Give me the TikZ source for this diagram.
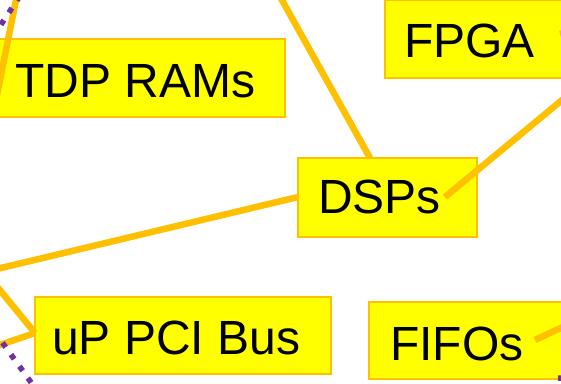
\documentclass[tikz,border=0pt]{standalone}
\usepackage{fontspec}
\setmainfont{Liberation Sans}
\definecolor{busorange}{HTML}{FFC000}
\definecolor{boxyellow}{HTML}{FFFF00}
\definecolor{ctrlpurple}{HTML}{7030A0}
\begin{document}
\begin{tikzpicture}[x=1pt,y=-1pt,
  block/.style={draw=busorange,line width=1.5pt,fill=boxyellow,rectangle,inner sep=0pt},
  lbl/.style={anchor=base west,inner sep=0pt,font=\fontsize{48}{56}\selectfont},
  link/.style={draw=busorange,line width=6.5pt},
  ctrl/.style={draw=ctrlpurple,line width=5.5pt,line cap=butt,dash pattern=on 5.5pt off 9pt}]
\useasboundingbox (0,0) rectangle (561,383);
\clip (0,0) rectangle (561,383);
\fill[white] (0,0) rectangle (561,383);

% blocks
\node[block,minimum width=300pt,minimum height=78pt] (tdp) at (135,78) {};
\node[block,minimum width=200pt,minimum height=78pt] (fpga) at (485,39) {};
\node[block,minimum width=179pt,minimum height=79pt] (dsps) at (387.5,197.5) {};
\node[block,minimum width=296pt,minimum height=77pt] (pci) at (183,335.5) {};
\node[block,minimum width=210pt,minimum height=77pt] (fifos) at (474,340.5) {};

% attachment points and off-sheet ends
\coordinate (d1) at (370,158);
\coordinate (d2) at (445,197);
\coordinate (d3) at (298,197);
\coordinate (p1) at (35,333);
\coordinate (f1) at (535,340);
\coordinate (g1) at (560,34);
\coordinate (e1) at (273,-16);
\coordinate (e2) at (585,81);
\coordinate (e3) at (-20,273);
\coordinate (e4) at (-10,278);
\coordinate (e5) at (-15,350);
\coordinate (e6a) at (18,-10);
\coordinate (e6b) at (-3,95);
\coordinate (e7) at (580,319);
\coordinate (e8) at (575,30);
\coordinate (q1) at (20,-4);
\coordinate (q2) at (-12,44);
\coordinate (q3) at (-6,331);
\coordinate (q4) at (38,392);
\coordinate (q5) at (558,378);
\coordinate (q6) at (590,380);

% data links
\draw[link] (e1) -- (d1);
\draw[link] (d2) -- (e2);
\draw[link] (d3) -- (e3);
\draw[link] (p1) -- (e4);
\draw[link] (p1) -- (e5);
\draw[link] (e6a) -- (e6b);
\draw[link] (f1) -- (e7);
\draw[link] (g1) -- (e8);

% control lines
\draw[ctrl] (q1) -- (q2);
\draw[ctrl] (q3) -- (q4);
\draw[ctrl] (q5) -- (q6);

% labels
\node[lbl] (tdpt) at (15,97) {TDP RAMs};
\node[lbl] (fpgat) at (404,57) {FPGA};
\node[lbl] (dspst) at (318,213) {DSPs};
\node[lbl] (pcit) at (52,354) {uP PCI Bus};
\node[lbl] (fifost) at (390,360) {FIFOs};
\end{tikzpicture}
\end{document}
